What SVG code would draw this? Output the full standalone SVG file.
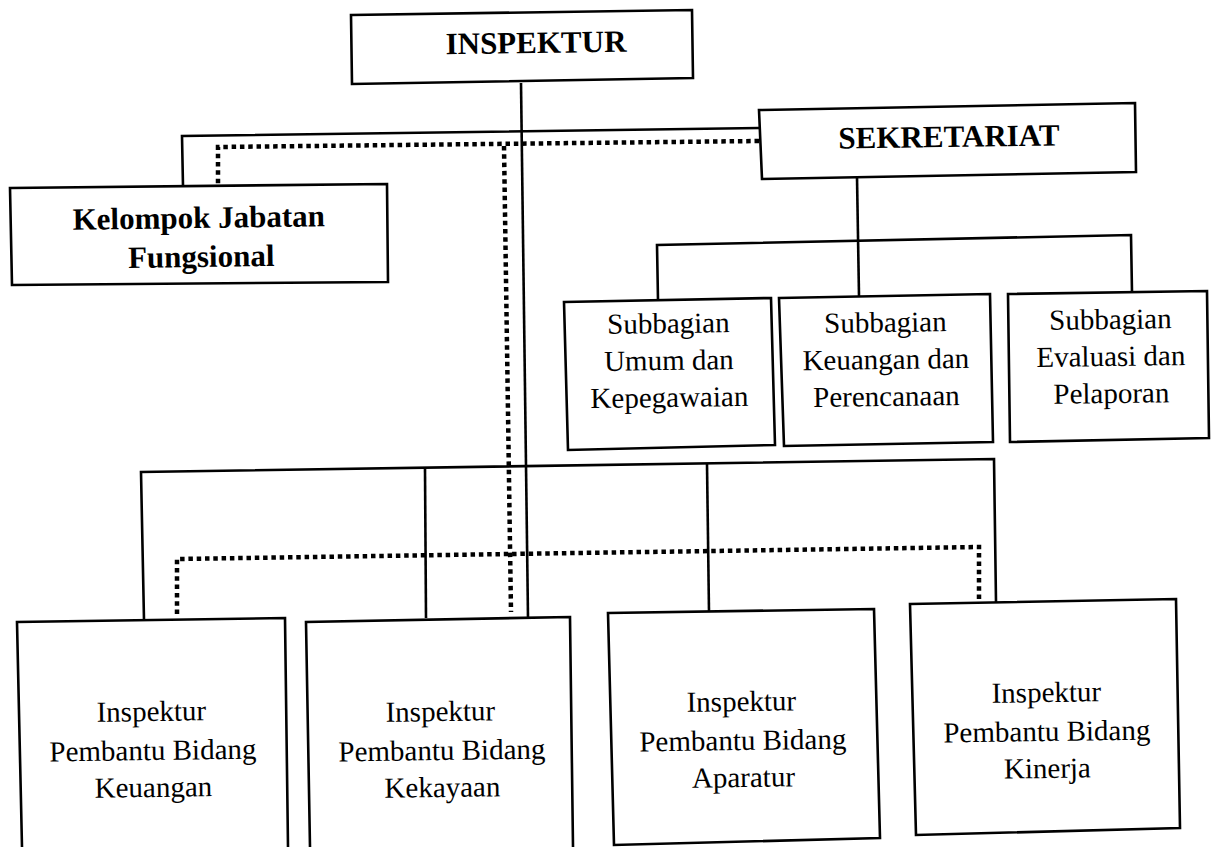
<svg xmlns="http://www.w3.org/2000/svg" width="1216" height="847" viewBox="0 0 1216 847">
<style>
.box{fill:#fff;stroke:#000;stroke-width:2.6;stroke-linejoin:miter}
.ln{fill:none;stroke:#000;stroke-width:2.6}
.dot{fill:none;stroke:#000;stroke-width:4.5;stroke-dasharray:4.5 3.8}
.b{font-family:"Liberation Serif","Times New Roman",serif;font-weight:bold;font-size:31px;text-anchor:middle;fill:#000}
.r{font-family:"Liberation Serif","Times New Roman",serif;font-size:29px;text-anchor:middle;fill:#000}
</style>
<rect width="1216" height="847" fill="#fff"/>
<g id="connectors">
<polyline class="ln" points="521,83 528,618"/>
<polyline class="ln" points="183,186 182,136 759,128"/>
<polyline class="ln" points="857,177 859,296"/>
<polyline class="ln" points="658,300 657,245 1131,235 1132,292"/>
<polyline class="ln" points="144,620 141,472 994,459 996,602"/>
<polyline class="ln" points="425,469 426,618"/>
<polyline class="ln" points="707,464 709,612"/>
<polyline class="dot" points="759,141 218,147 218,186"/>
<polyline class="dot" points="504,146 511,612"/>
<polyline class="dot" points="177,614 177,559 979,547 979,601"/>
</g>
<g id="inspektur">
<polygon class="box" points="351,15 692,10 693,78 352,84"/>
<text class="b" x="536" y="53" transform="rotate(-0.8 536 45)">INSPEKTUR</text>
</g>
<g id="sekretariat">
<polygon class="box" points="759,110 1135,103 1136,172 762,179"/>
<text class="b" x="949" y="147" transform="rotate(-0.8 949 140)">SEKRETARIAT</text>
</g>
<g id="kelompok">
<polygon class="box" points="10,188 387,184 388,282 12,285"/>
<text class="b" x="199" y="228" transform="rotate(-0.8 199 240)">Kelompok Jabatan</text>
<text class="b" x="201" y="267" transform="rotate(-0.8 199 240)">Fungsional</text>
</g>
<g id="sub-umum">
<polygon class="box" points="564,302 771,298 775,445 568,450"/>
<text class="r" transform="rotate(-0.8 669 370)"><tspan x="669" y="333">Subbagian</tspan><tspan x="669" y="370">Umum dan</tspan><tspan x="669" y="407">Kepegawaian</tspan></text>
</g>
<g id="sub-keuangan">
<polygon class="box" points="779,298 990,294 993,442 784,446"/>
<text class="r" transform="rotate(-0.8 886 369)"><tspan x="886" y="332">Subbagian</tspan><tspan x="886" y="369">Keuangan dan</tspan><tspan x="886" y="406">Perencanaan</tspan></text>
</g>
<g id="sub-evaluasi">
<polygon class="box" points="1008,294 1207,291 1209,438 1010,442"/>
<text class="r" transform="rotate(-0.8 1111 366)"><tspan x="1111" y="329">Subbagian</tspan><tspan x="1111" y="366">Evaluasi dan</tspan><tspan x="1111" y="403">Pelaporan</tspan></text>
</g>
<g id="ipb-keuangan">
<polyline class="box" points="22,847 17,622 285,618 288,847"/>
<text class="r" transform="rotate(-0.8 152 759)"><tspan x="152" y="721">Inspektur</tspan><tspan x="153" y="760">Pembantu Bidang</tspan><tspan x="153" y="797">Keuangan</tspan></text>
</g>
<g id="ipb-kekayaan">
<polyline class="box" points="310,847 306,622 570,617 573,847"/>
<text class="r" transform="rotate(-0.8 442 759)"><tspan x="441" y="721">Inspektur</tspan><tspan x="442" y="760">Pembantu Bidang</tspan><tspan x="442" y="797">Kekayaan</tspan></text>
</g>
<g id="ipb-aparatur">
<polygon class="box" points="608,613 874,609 880,838 614,845"/>
<text class="r" transform="rotate(-0.8 743 750)"><tspan x="742" y="711">Inspektur</tspan><tspan x="743" y="750">Pembantu Bidang</tspan><tspan x="743" y="787">Aparatur</tspan></text>
</g>
<g id="ipb-kinerja">
<polygon class="box" points="910,604 1176,599 1180,828 916,835"/>
<text class="r" transform="rotate(-0.8 1047 741)"><tspan x="1047" y="702">Inspektur</tspan><tspan x="1047" y="741">Pembantu Bidang</tspan><tspan x="1047" y="778">Kinerja</tspan></text>
</g>
</svg>
